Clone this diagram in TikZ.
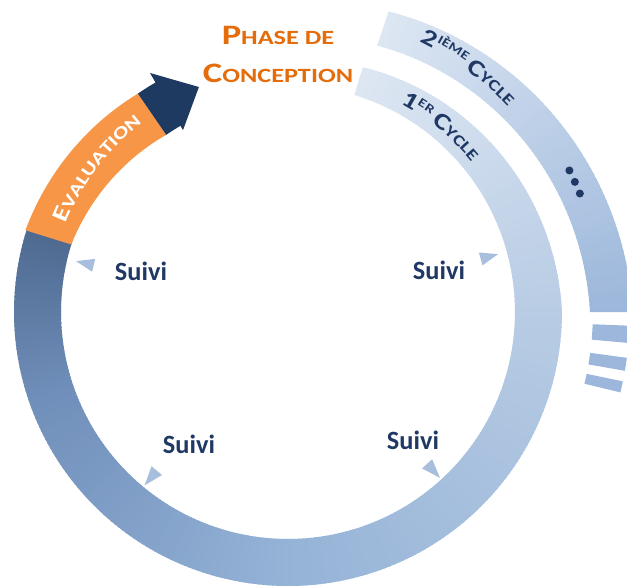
\documentclass[tikz,border=0pt]{standalone}
\usepackage{fontspec}
\setmainfont{Carlito}
\newfontfamily\capsfont{Carlito}[FakeStretch=1.3]
\usetikzlibrary{decorations.text}

\definecolor{navytxt}{RGB}{31,56,100}
\definecolor{navyarrow}{RGB}{30,58,96}
\definecolor{titleorange}{RGB}{228,108,10}
\definecolor{evalorange}{RGB}{247,150,70}
\definecolor{markblue}{RGB}{167,190,221}
\definecolor{bandA}{RGB}{221,231,243}
\definecolor{bandB}{RGB}{184,204,228}
\definecolor{bandC}{RGB}{149,179,215}
\definecolor{bandD}{RGB}{112,143,186}
\definecolor{bandE}{RGB}{78,105,144}
\definecolor{bandF}{RGB}{156,183,219}

% hand made small caps
\newcommand\tbig{\capsfont\bfseries\fontsize{16}{22}\selectfont}
\newcommand\tsml{\capsfont\bfseries\fontsize{11.5}{22}\selectfont}
\newcommand\cbig{\capsfont\bfseries\fontsize{13.2}{14}\selectfont}
\newcommand\csml{\capsfont\bfseries\fontsize{9}{10}\selectfont}
\newcommand\csup{\capsfont\bfseries\fontsize{7}{8}\selectfont}
\newcommand\ebig{\capsfont\bfseries\fontsize{13}{14}\selectfont}
\newcommand\esml{\capsfont\bfseries\fontsize{10}{11}\selectfont}

% cycle name along an arc: radius, start angle, number, superscript,
% angle taken by the number, angle taken by number and superscript
\newcommand\cyclabel[6]{%
  \path[decorate, decoration={text along path, text color=navytxt, text={|\cbig|#3}}]
    (#2:#1) arc[start angle=#2, end angle=#2-40, radius=#1];
  \path[decorate, decoration={text along path, text color=navytxt, raise=4pt, text={|\csup|#4}}]
    ({#2-#5}:#1) arc[start angle=#2-#5, end angle=#2-#5-40, radius=#1];
  \path[decorate, decoration={text along path, text color=navytxt, text={|\cbig|C|\csml|YCLE}}]
    ({#2-#6}:#1) arc[start angle=#2-#6, end angle=#2-#6-40, radius=#1];
}

\tikzset{
  suivi/.style={font=\bfseries\fontsize{15}{15}\selectfont, text=navytxt, inner sep=0pt},
  marker/.style={fill=markblue}
}

\begin{document}
\begin{tikzpicture}[line join=round]

  \useasboundingbox (-5.76,-5.50) rectangle (6.78,6.24);
  \clip (-5.76,-5.50) rectangle (6.78,6.24);

  % ring properties
  \def\rin{4.54}   % inner radius of the first cycle
  \def\rtop{5.12}  % outer radius where the band starts
  \def\rmax{5.48}  % outer radius once fully grown

  % first cycle: light at the start, dark near the evaluation
  \foreach \i in {0,...,270} {
    \pgfmathsetmacro\angA{73-\i}
    \pgfmathsetmacro\angB{\angA-1.4}
    \pgfmathsetmacro\ra{\rtop+(\rmax-\rtop)*min(1,\i/73)}
    \pgfmathsetmacro\rb{\rtop+(\rmax-\rtop)*min(1,(\i+1.4)/73)}
    \ifdim \angA pt > 0pt
      \pgfmathtruncatemacro\p{100*\angA/73}\colorlet{segc}{bandA!\p!bandB}
    \else\ifdim \angA pt > -90pt
      \pgfmathtruncatemacro\p{100*(\angA+90)/90}\colorlet{segc}{bandB!\p!bandC}
    \else\ifdim \angA pt > -160pt
      \pgfmathtruncatemacro\p{100*(\angA+160)/70}\colorlet{segc}{bandC!\p!bandD}
    \else
      \pgfmathtruncatemacro\p{100*(\angA+198)/38}\colorlet{segc}{bandD!\p!bandE}
    \fi\fi\fi
    \fill[segc] (\angA:\rin) -- (\angB:\rin) -- (\angB:\rb) -- (\angA:\ra) -- cycle;
  }

  % second cycle, outside the first one
  \foreach \i in {0,...,71} {
    \pgfmathsetmacro\angA{71.5-\i}
    \pgfmathsetmacro\angB{max(0,\angA-1.4)}
    \pgfmathsetmacro\ia{5.62+0.42*(71.5-\angA)/71.5}
    \pgfmathsetmacro\ib{5.62+0.42*(71.5-\angB)/71.5}
    \pgfmathsetmacro\oa{6.34+0.56*(71.5-\angA)/71.5}
    \pgfmathsetmacro\ob{6.34+0.56*(71.5-\angB)/71.5}
    \pgfmathtruncatemacro\p{100*\angA/71.5}
    \colorlet{segc}{bandA!\p!bandF}
    \fill[segc] (\angA:\ia) -- (\angB:\ib) -- (\angB:\ob) -- (\angA:\oa) -- cycle;
  }
  % broken continuation
  \foreach \s/\e in {-2.3/-5.2, -7.7/-9.9, -11.7/-13.6}
    \fill[bandF] (\s:6.1) -- (\e:6.1) -- (\e:6.84) -- (\s:6.84) -- cycle;

  % evaluation piece and arrow head
  \fill[evalorange] plot[domain=162.7:124.5, samples=30] (\x:{4.54-0.24*(162.7-\x)/38.2})
    -- plot[domain=124.5:162.7, samples=30] (\x:{5.5-0.2*(162.7-\x)/38.2}) -- cycle;
  \fill[navyarrow] (124.5:4.3) arc[start angle=124.5, end angle=120, radius=4.3]
    -- (120:4.2) -- (111.6:4.84) -- (120:5.52) -- (120:5.3)
    arc[start angle=120, end angle=124.5, radius=5.3] -- cycle;

  % labels along the bands
  \path[decorate, decoration={text along path, text align=center, text color=white,
      text={|\ebig|E|\esml|VALUATION}}]
    (173:4.78) arc[start angle=173, end angle=113, radius=4.78];
  \cyclabel{4.74}{61.8}{1}{ER}{3.7}{8.9}
  \cyclabel{6.02}{64}{2}{IÈME}{2.9}{10.2}
  \foreach \a in {26.7,24.4,22.1}
    \fill[navytxt] (\a:6.3) circle (0.08);

  \node[text=titleorange, align=center, inner sep=0pt, font=\fontsize{16}{22}\selectfont]
    (phase) at (-0.2,5.15) {{\tbig P}{\tsml HASE DE}\\{\tbig C}{\tsml ONCEPTION}};

  % follow-up markers
  \foreach \a/\rb/\rt in {166.5/4.0/4.36, 15.4/4.0/4.36, 230.4/4.12/4.5, -47.5/4.12/4.5}
    \fill[marker] ({\a+1.9}:\rb) -- (\a:\rt) -- ({\a-1.9}:\rb) -- cycle;
  \node[suivi] (suivi1) at (-2.94,0.82) {Suivi};
  \node[suivi] (suivi2) at (3.02,0.84) {Suivi};
  \node[suivi] (suivi3) at (-1.98,-2.64) {Suivi};
  \node[suivi] (suivi4) at (2.50,-2.56) {Suivi};

\end{tikzpicture}
\end{document}
